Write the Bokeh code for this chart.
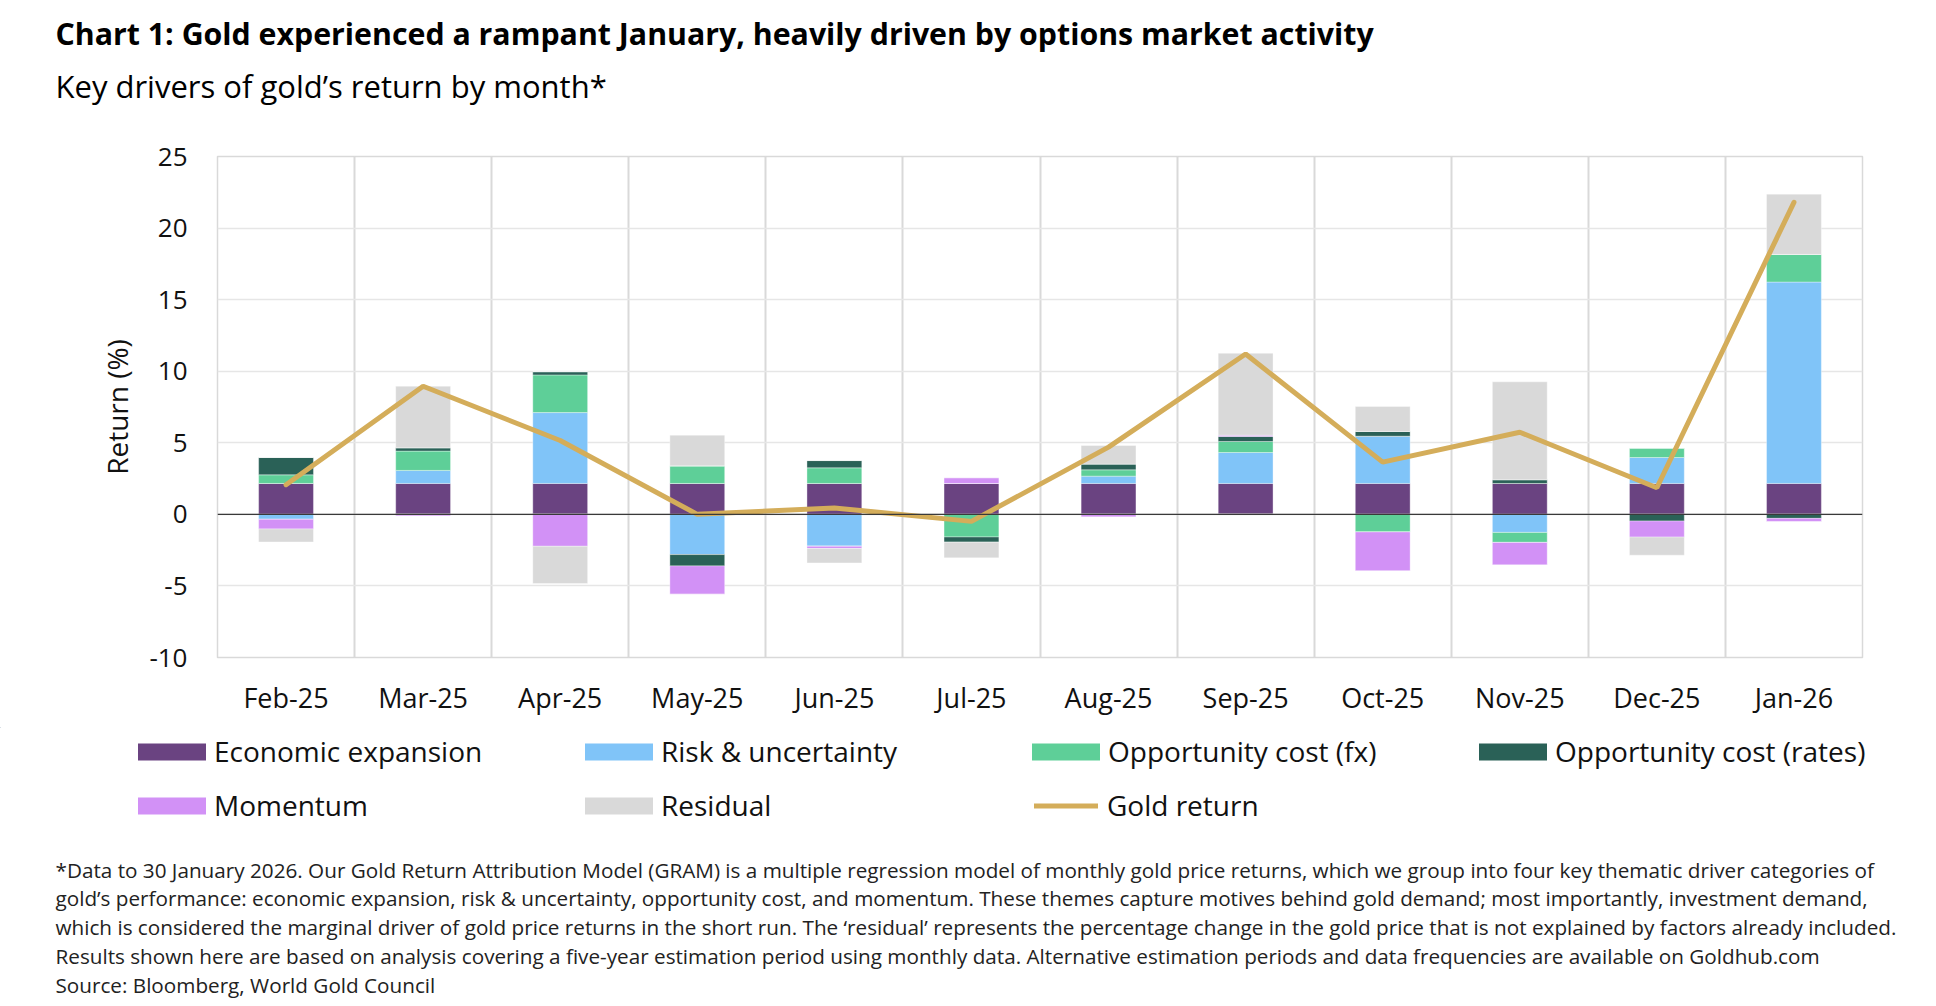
from bokeh.plotting import figure
from bokeh.models import (FactorRange, Range1d, FixedTicker, Span, Legend, LegendItem,
                          ColumnDataSource)
from bokeh.layouts import column
from bokeh.embed import file_html
from bokeh.resources import INLINE
from bokeh.core.properties import value

# ---------------- data ----------------
months = ["Feb-25", "Mar-25", "Apr-25", "May-25", "Jun-25", "Jul-25",
          "Aug-25", "Sep-25", "Oct-25", "Nov-25", "Dec-25", "Jan-26"]
economic_expansion = [2.16, 2.16, 2.16, 2.16, 2.16, 2.16, 2.16, 2.16, 2.16, 2.16, 2.16, 2.16]
risk_uncertainty = [-0.35, 0.91, 4.95, -2.81, -2.23, 0.0, 0.51, 2.16, 3.30, -1.26, 1.81, 14.07]
opp_cost_fx = [0.60, 1.35, 2.63, 1.23, 1.09, -1.58, 0.44, 0.77, -1.23, -0.70, 0.67, 1.93]
opp_cost_rates = [1.21, 0.23, 0.23, -0.79, 0.51, -0.37, 0.40, 0.35, 0.33, 0.26, -0.47, -0.28]
momentum = [-0.67, -0.12, -2.23, -1.98, -0.16, 0.40, -0.19, 0.09, -2.72, -1.58, -1.12, -0.23]
residual = [-0.91, 4.30, -2.60, 2.14, -1.00, -1.09, 1.30, 5.72, 1.74, 6.84, -1.26, 4.21]
gold_return = [2.07, 8.95, 5.16, 0.0, 0.45, -0.49, 4.70, 11.2, 3.65, 5.74, 1.86, 21.8]

series_labels = ["Economic expansion", "Risk & uncertainty", "Opportunity cost (fx)",
                 "Opportunity cost (rates)", "Momentum", "Residual"]
series_values = [economic_expansion, risk_uncertainty, opp_cost_fx, opp_cost_rates,
                 momentum, residual]
series_colors = ["#6A4381", "#80C4F8", "#5ECF98", "#2A6157", "#D291F6", "#D9D9D9"]
gold_label = "Gold return"
gold_color = "#D4AD5A"
y_ticks = [-10, -5, 0, 5, 10, 15, 20, 25]
y_tick_labels = {-10: "-10", -5: "-5", 0: "0", 5: "5", 10: "10", 15: "15", 20: "20", 25: "25"}

title_text = "Chart 1: Gold experienced a rampant January, heavily driven by options market activity"
subtitle_text = "Key drivers of gold\u2019s return by month*"
footnote_lines = [
    "*Data to 30 January 2026. Our Gold Return Attribution Model (GRAM) is a multiple regression model of monthly gold price returns, which we group into four key thematic driver categories of",
    "gold\u2019s performance: economic expansion, risk & uncertainty, opportunity cost, and momentum. These themes capture motives behind gold demand; most importantly, investment demand,",
    "which is considered the marginal driver of gold price returns in the short run. The \u2018residual\u2019 represents the percentage change in the gold price that is not explained by factors already included.",
    "Results shown here are based on analysis covering a five-year estimation period using monthly data. Alternative estimation periods and data frequencies are available on Goldhub.com",
    "Source: Bloomberg, World Gold Council",
]

FONT = "Open Sans"
W = 1920

# ---------------- source with positive / negative parts ----------------
data = {"month": months, "gold": gold_return}
keys = []
for i, vals in enumerate(series_values):
    k = "s%d" % i
    keys.append(k)
    data[k + "_pos"] = [v if v > 0 else 0.0 for v in vals]
    data[k + "_neg"] = [v if v < 0 else 0.0 for v in vals]
src = ColumnDataSource(data)


def canvas(h):
    c = figure(width=W, height=h, x_range=Range1d(0, W), y_range=Range1d(h, 0),
               min_border=0, toolbar_location=None, output_backend="svg",
               x_axis_location=None, y_axis_location=None, frame_align=False)
    c.grid.visible = False
    c.outline_line_color = None
    c.background_fill_color = "white"
    c.border_fill_color = "white"
    return c


# ---------------- header ----------------
HEAD_H = 126
head = canvas(HEAD_H)
head.text(x=[55], y=[33], text=[title_text], text_font=value(FONT), text_font_size="30.3px",
          text_font_style="bold", text_baseline="middle", text_align="left", text_color="#000000")
head.text(x=[55], y=[85], text=[subtitle_text], text_font=value(FONT), text_font_size="31px",
          text_font_style="normal", text_baseline="middle", text_align="left", text_color="#000000")

# ---------------- main chart ----------------
MAIN_H = 601
p = figure(x_range=FactorRange(*months), y_range=Range1d(-10, 25), width=W, height=MAIN_H,
           min_border_left=217, min_border_right=58, min_border_top=30, min_border_bottom=70,
           toolbar_location=None, output_backend="svg", frame_align=False)
p.background_fill_color = "white"
p.border_fill_color = "white"
p.outline_line_color = "#D9D9D9"
p.outline_line_width = 1.5

p.xgrid.ticker = FixedTicker(ticks=list(range(1, 12)))
p.xgrid.grid_line_color = "#D9D9D9"
p.xgrid.grid_line_width = 2
p.yaxis.ticker = FixedTicker(ticks=y_ticks)
p.yaxis.major_label_overrides = y_tick_labels
p.ygrid.grid_line_color = "#E6E6E6"
p.ygrid.grid_line_width = 1.5

p.vbar_stack([k + "_pos" for k in keys], x="month", width=0.4, source=src,
             fill_color=series_colors, line_color="white", line_width=0.6, line_alpha=0.6)
p.vbar_stack([k + "_neg" for k in keys], x="month", width=0.4, source=src,
             fill_color=series_colors, line_color="white", line_width=0.6, line_alpha=0.6)

p.add_layout(Span(location=0, dimension="width", line_color="#3A3A3A", line_width=1.3))
p.line(x="month", y="gold", source=src, line_color=gold_color, line_width=5, line_cap="round")

for ax in (p.xaxis, p.yaxis):
    ax.axis_line_color = None
    ax.major_tick_line_color = None
    ax.minor_tick_line_color = None
    ax.major_tick_out = 0
    ax.major_tick_in = 0
    ax.minor_tick_out = 0
    ax.minor_tick_in = 0
    ax.major_label_text_font = FONT
    ax.major_label_text_color = "#111111"
p.yaxis.major_label_text_font_size = "26px"
p.yaxis.major_label_standoff = 30
p.yaxis.axis_label = "Return (%)"
p.yaxis.axis_label_text_font = FONT
p.yaxis.axis_label_text_font_size = "28px"
p.yaxis.axis_label_text_font_style = "normal"
p.yaxis.axis_label_text_color = "#111111"
p.yaxis.axis_label_standoff = 10
p.xaxis.major_label_text_font_size = "27px"
p.xaxis.major_label_standoff = 21

# ---------------- legend ----------------
LEG_H = 113
leg = canvas(LEG_H)
items = []
for lab, col in zip(series_labels, series_colors):
    # off-canvas placeholder so the legend can draw its swatch
    r = leg.vbar(x=[-500], top=[-500], bottom=[-501], width=1, fill_color=col, line_color=None)
    items.append(LegendItem(label=lab, renderers=[r]))
rg = leg.line(x=[-500, -499], y=[-500, -500], line_color=gold_color, line_width=5, line_cap="round")
gold_item = LegendItem(label=gold_label, renderers=[rg])


def make_legend(its, x, ybottom, gw, gh, standoff):
    lg = Legend(items=its, orientation="horizontal", location=(x, ybottom),
                glyph_width=gw, glyph_height=gh, label_standoff=standoff, label_width=352,
                label_height=37, spacing=10, padding=0, margin=0,
                border_line_color=None, background_fill_alpha=0,
                label_text_font=FONT, label_text_font_size="28px", label_text_color="#111111")
    leg.add_layout(lg, "center")


make_legend(items[:4], 129, 70, 85, 21, 0)
make_legend(items[4:], 129, 16, 85, 21, 0)
make_legend([gold_item], 1034, 16, 64, 21, 9)

# ---------------- footnote ----------------
FOOT_H = 158
foot = canvas(FOOT_H)
foot_y = [29, 57.5, 86, 115, 144]
foot.text(x=[55] * len(footnote_lines), y=foot_y, text=footnote_lines, text_font=value(FONT),
          text_font_size="20.7px", text_baseline="middle", text_align="left", text_color="#222222")

layout = column(head, p, leg, foot, spacing=0)
open("out.html", "w").write(file_html(layout, INLINE))
